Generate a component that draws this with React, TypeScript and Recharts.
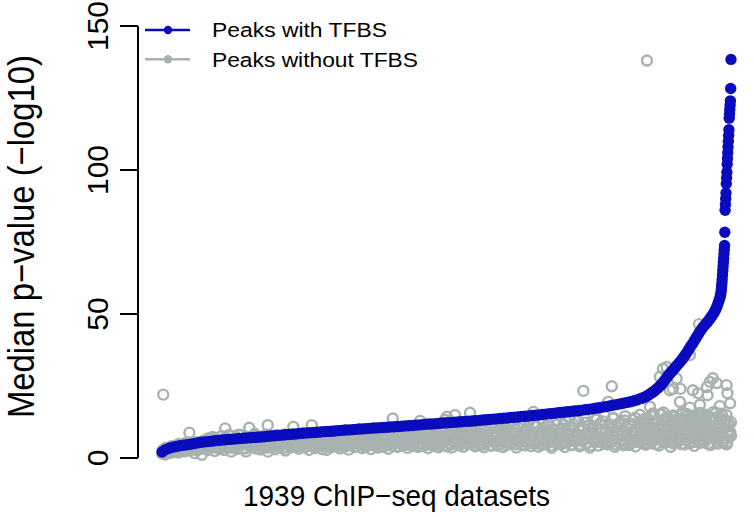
import React from 'react';
import { ScatterChart, Scatter, XAxis, YAxis, Legend } from 'recharts';

const SERIES_NAMES = ['Peaks with TFBS', 'Peaks without TFBS'];
const X_LABEL = '1939 ChIP\u2212seq datasets';
const Y_LABEL = 'Median p\u2212value (\u2212log10)';
const Y_TICKS = [0, 50, 100, 150];
const N_DATASETS = 1939;

// Blue series (sorted): values at ranks 1, 13, 25, ... (every 12th dataset)
const BLUE_FLAT_STEP = 12;
const blueFlat = [
  2.1, 2.9, 3.4, 3.75, 4.0, 4.25, 4.45, 4.6, 4.8, 5.0,
  5.25, 5.45, 5.6, 5.7, 5.85, 6.0, 6.1, 6.25, 6.35, 6.45,
  6.55, 6.65, 6.75, 6.85, 6.95, 7.05, 7.15, 7.2, 7.3, 7.4,
  7.55, 7.65, 7.75, 7.85, 7.95, 8.05, 8.15, 8.25, 8.35, 8.5,
  8.6, 8.7, 8.75, 8.85, 8.95, 9.05, 9.15, 9.25, 9.3, 9.4,
  9.5, 9.6, 9.7, 9.75, 9.85, 9.95, 10.05, 10.1, 10.2, 10.3,
  10.4, 10.45, 10.55, 10.6, 10.7, 10.8, 10.85, 10.95, 11.05, 11.15,
  11.2, 11.3, 11.4, 11.5, 11.6, 11.7, 11.8, 11.85, 11.95, 12.05,
  12.15, 12.25, 12.3, 12.4, 12.5, 12.6, 12.7, 12.75, 12.85, 12.95,
  13.05, 13.2, 13.3, 13.4, 13.5, 13.6, 13.7, 13.8, 13.9, 14.05,
  14.15, 14.25, 14.4, 14.5, 14.6, 14.75, 14.85, 14.95, 15.1, 15.25,
  15.4, 15.5, 15.65, 15.8, 15.9, 16.05, 16.15, 16.3, 16.4, 16.55,
  16.75, 16.9, 17.05, 17.25, 17.45, 17.65, 17.85, 18.1, 18.3, 18.55,
  18.8, 19.05, 19.3, 19.55, 19.9, 20.25, 20.7,
];

// Blue series, steep tail: [rank, value]
const blueSteep: [number, number][] = [
  [1640, 20.9], [1646, 21.2], [1652, 21.5], [1658, 21.9], [1664, 22.3], [1670, 22.7],
  [1676, 23.1], [1682, 23.6], [1688, 24.1], [1694, 24.7], [1700, 25.3], [1706, 26.0],
  [1712, 26.8], [1718, 27.6], [1724, 28.4], [1730, 29.2], [1736, 29.9], [1742, 30.6],
  [1748, 31.3], [1754, 32.0], [1760, 32.7], [1766, 33.4], [1772, 34.2], [1778, 35.0],
  [1784, 35.9], [1790, 36.8], [1796, 37.8], [1802, 38.8], [1808, 39.7], [1814, 40.7],
  [1820, 41.7], [1826, 42.7], [1832, 43.7], [1838, 44.6], [1844, 45.5], [1850, 46.2],
  [1856, 46.9], [1861, 47.5], [1866, 48.2], [1871, 48.9], [1876, 49.6], [1881, 50.4],
  [1885, 51.2], [1889, 52.0], [1892, 52.8], [1895, 53.7], [1898, 54.6], [1901, 55.5],
  [1903, 56.4], [1905, 57.4], [1906, 58.4], [1907, 59.5], [1908, 60.7], [1909, 62.0],
  [1910, 63.5], [1911, 65.0], [1912, 66.5], [1913, 67.9], [1914, 69.3], [1915, 70.8],
  [1916, 72.3], [1917, 73.8], [1918, 78.4], [1919, 86], [1920, 88], [1921, 90],
  [1922, 92], [1923, 95.2], [1924, 97.2], [1925, 99.2], [1926, 102], [1927, 104],
  [1928, 106], [1929, 108], [1930, 110], [1931, 112], [1932, 114], [1933, 118],
  [1934, 119.5], [1935, 121], [1936, 122.5], [1937, 124], [1938, 128.3], [1939, 138.4],
];

// Grey series: values read along the band, evenly spread over the 1939 ranks
const greyBand = [
  1.5, 2.4, 1.2, 3.1, 2.0, 3.6, 1.8, 2.7, 3.9, 2.2,
  3.4, 1.9, 4.6, 2.8, 3.7, 2.3, 5.2, 3.0, 4.1, 2.6,
  4.8, 3.3, 1.7, 5.5, 3.8, 2.9, 4.4,
  1.1, 5.1, 3.5, 6.2, 2.7, 4.3, 7.0, 3.9, 5.6, 2.4,
  6.6, 4.0, 3.2, 7.5, 5.0, 2.8, 6.1, 4.5, 3.6, 7.9,
  2.2, 5.4, 4.2, 6.9, 3.1, 8.1, 4.8, 5.9, 3.4, 6.4,
  2.2, 7.2, 4.6, 3.8, 6.0, 5.2, 8.4, 3.3, 4.9, 7.1,
  2.9, 5.7, 6.7, 4.1, 3.6, 2.2, 7.8, 5.0, 4.4, 6.3,
  3.0, 8.0, 5.5, 4.0, 6.8, 3.5, 7.4, 2.6, 5.8, 4.7,
  6.5, 3.7, 8.3, 5.1, 4.3, 7.0, 3.2, 6.0, 4.9, 8.6,
  3.9, 5.6, 7.3, 2.8, 6.2, 4.5, 8.0, 3.4, 5.3, 7.6,
  4.1, 6.7, 3.0, 8.4, 5.8, 2.8, 4.6, 7.1,
  3.7, 9.0, 5.2, 6.4, 4.0, 8.2, 3.3, 7.0, 5.7, 9.5,
  4.4, 6.1, 2.9, 8.7, 5.0, 7.4, 3.8, 6.6, 9.8, 4.7,
  5.9, 3.4, 8.0, 7.1, 4.2, 10.1, 5.5, 3.1, 6.9, 8.8,
  4.6, 7.5, 3.6, 9.3, 5.3, 6.3, 4.0, 10.4, 7.8, 3.2,
  5.8, 8.5, 4.8, 6.8, 9.9, 3.9, 7.2, 5.1, 10.6, 4.3,
  6.0, 8.1, 3.5, 7.7, 5.4, 9.6, 4.5, 6.5, 10.9, 3.8,
  8.3, 5.0, 7.0, 4.1, 9.1, 6.2, 3.4, 10.2, 5.6, 7.9,
  4.7, 8.8, 6.4, 3.7, 9.8, 5.2, 7.4, 11.0, 4.3, 6.7,
  8.5, 5.0,
  3.6, 9.4, 6.1, 7.8, 4.6, 10.7, 5.5, 8.2, 3.9, 11.5,
  6.8, 4.8, 9.0, 7.3, 5.2, 12.0, 4.0, 8.6, 6.3, 10.3,
  5.0, 7.6, 3.7, 11.2, 6.6, 9.7, 4.4, 8.0, 12.4, 5.7,
  7.1, 4.2, 10.0, 6.0, 8.8, 3.8, 11.8, 5.3, 9.3, 7.5,
  4.9, 12.6, 6.4, 8.3, 3.6, 10.6, 5.8, 7.9, 4.5, 11.4,
  6.9, 9.1, 5.1, 12.9, 4.1, 8.5, 7.2, 10.9, 5.6, 3.9,
  9.6, 6.2, 12.2, 4.7, 8.0, 11.0, 5.4, 7.6, 3.5, 10.1,
  6.5, 13.0, 4.8, 8.9, 7.0,
  5.2, 11.7, 3.8, 9.3, 6.8, 13.6, 4.5, 8.1, 10.5, 5.9,
  7.4, 12.8, 4.0, 9.8, 6.3, 14.2, 5.0, 8.6, 11.3, 3.6,
  7.9, 10.0, 5.5, 13.3, 6.7, 4.3, 12.0, 8.8, 5.8, 14.7,
  9.4, 4.7, 7.2, 11.6, 6.0, 13.9, 3.9, 10.7, 8.2, 5.3,
  12.5, 7.7, 4.4, 14.5, 9.0, 6.4, 11.2, 5.1, 13.2, 8.4,
  4.0, 10.4, 7.0, 15.0, 5.7,
  12.0, 8.9, 4.6, 14.0, 6.8, 10.8, 5.2, 15.5, 9.5, 7.3,
  13.0, 4.3, 11.5, 6.1, 15.8, 8.1, 5.5, 12.7, 9.9, 3.9,
  14.4, 7.0, 10.6, 5.8, 13.6, 8.6, 4.8, 15.2, 11.1, 6.5,
  9.2, 14.9, 5.1, 12.3, 7.6, 4.2, 13.8, 10.2, 6.2, 15.6,
  8.3, 11.8, 5.4, 14.2, 7.3, 9.7, 4.5, 12.9, 15.9, 6.9,
  10.5, 5.0, 13.5, 8.0, 14.8, 6.0, 11.4, 4.7, 12.2, 9.1, 7.7,
];

// Second grey pass, read in between the first (ranks offset by half a step)
const greyBand2 = [
  2.8, 2.1, 3.5, 2.5, 3.0, 2.2, 4.1, 3.3, 2.6, 4.4,
  2.9, 4.9, 3.6, 2.4, 4.2, 3.1, 5.0, 2.7, 3.9, 4.6,
  3.2, 5.3, 4.0, 2.8, 4.9, 3.6, 5.6,
  3.8, 6.0, 4.4, 3.2, 6.8, 5.1, 3.9, 7.3, 4.7, 5.8,
  3.4, 6.3, 4.9, 7.6, 3.7, 5.5, 6.9, 4.2, 7.9, 5.0,
  3.6, 6.6, 4.5, 7.2, 5.7, 3.9, 8.0, 4.8, 6.1, 3.3,
  7.4, 5.3, 4.1, 6.7, 3.8, 7.8, 5.6, 4.4, 6.4, 3.5,
  7.0, 5.1, 4.3, 8.1, 6.0, 3.7, 5.4, 7.5, 4.6, 6.8,
  3.9, 5.9, 7.7, 4.2, 6.3, 5.0, 8.2, 3.6, 6.6, 4.9,
  7.3, 5.5, 4.0, 6.9, 3.8, 8.0, 5.2, 4.5, 7.1, 6.1,
  3.7, 8.3, 4.8, 6.5, 5.6, 4.1, 7.7, 3.9, 6.2, 5.3,
  8.0, 4.4, 6.8, 5.0, 7.4, 3.8, 6.0, 4.7,
  8.6, 5.4, 4.2, 7.3, 6.1, 9.2, 4.6, 5.8, 7.9, 3.9,
  6.7, 9.0, 5.1, 4.4, 8.3, 6.3, 4.0, 7.6, 5.5, 9.4,
  4.8, 7.0, 6.0, 3.8, 8.8, 5.3, 4.5, 7.4, 9.7, 5.9,
  4.2, 6.5, 8.5, 5.0, 3.9, 7.8, 6.3, 9.9, 4.7, 5.6,
  8.1, 4.3, 6.9, 9.5, 5.2, 7.2, 4.0, 6.0, 8.7, 5.4,
  4.6, 9.8, 6.6, 5.0, 7.6, 4.1, 8.9, 5.8, 6.4, 9.3,
  4.4, 7.1, 5.5, 10.0, 6.2, 4.8, 8.4, 5.1, 7.5, 4.2,
  9.6, 6.0, 5.3, 8.0, 4.5, 7.0, 9.9, 5.7, 6.6, 4.0,
  8.7, 6.2,
  4.7, 7.9, 10.4, 5.6, 6.6, 4.3, 9.1, 7.2, 5.2, 8.5,
  10.8, 4.9, 6.9, 5.8, 9.4, 4.4, 7.6, 11.0, 6.1, 5.0,
  8.3, 4.6, 10.2, 7.0, 5.5, 9.0, 6.4, 4.2, 11.3, 7.8,
  5.3, 8.8, 4.8, 10.6, 6.7, 5.9, 9.6, 4.5, 7.4, 11.6,
  6.0, 5.1, 8.6, 10.0, 4.7, 7.1, 11.9, 5.7, 6.5, 9.3,
  4.4, 8.1, 10.8, 5.4, 7.7, 6.2, 4.9, 11.2, 9.0, 5.8,
  7.3, 4.6, 10.4, 6.6, 8.7, 5.1, 12.1, 6.9, 4.3, 9.5,
  7.9, 5.6, 11.5, 6.3, 8.4,
  4.8, 10.1, 6.9, 12.6, 5.4, 8.3, 9.6, 4.5, 11.8, 7.2,
  5.9, 13.1, 8.0, 4.6, 10.5, 6.5, 12.3, 5.1, 9.2, 7.6,
  4.3, 11.0, 8.5, 6.1, 13.5, 5.6, 9.9, 7.0, 12.7, 4.9,
  8.9, 6.4, 11.7, 5.2, 10.2, 13.8, 7.4, 4.7, 9.5, 12.0,
  6.2, 8.1, 5.0, 13.0, 10.8, 7.3, 4.5, 11.9, 9.0, 6.0,
  14.0, 8.6, 5.5, 12.4, 10.0,
  6.6, 13.4, 5.0, 9.3, 11.9, 7.8, 14.6, 6.0, 10.4, 4.8,
  12.8, 8.7, 15.1, 6.9, 10.9, 5.3, 13.9, 9.6, 7.5, 12.1,
  5.6, 14.8, 8.4, 11.3, 6.4, 13.2, 9.9, 4.9, 12.6, 7.9,
  15.3, 6.7, 10.7, 5.9, 13.7, 8.9, 11.6, 7.1, 14.4, 5.2,
  10.0, 12.8, 6.3, 15.0, 8.6, 4.8, 11.1, 13.4, 7.4, 9.4,
  14.1, 5.7, 12.0, 8.2, 15.4, 6.8, 10.3, 13.0, 5.4, 11.7, 9.0,
];

// Extra grey readings in the dense right-hand part (ranks 1640..1939)
const GREY_RIGHT_FROM = 1640;
const greyRight = [
  7.5, 11.2, 5.3, 13.6, 9.1, 6.4, 14.8, 8.0, 12.1, 4.9,
  10.6, 7.0, 15.2, 5.8, 12.9, 9.6, 6.6, 13.8, 8.4, 11.5,
  5.1, 14.3, 7.7, 10.1, 12.6, 6.1, 15.6, 9.0, 4.7, 13.1,
  8.8, 11.0, 6.9, 14.6, 5.6, 12.3, 9.9, 7.3, 15.0, 10.8,
  6.2, 13.5, 8.3, 11.9, 5.0, 14.1, 9.4, 7.1, 12.8, 15.7,
  6.7, 10.3, 13.9, 8.1, 5.4, 11.6, 14.9, 9.7, 7.9, 12.4,
];

// Grey outliers: [rank, value]
const greyOutliers: [number, number][] = [
  [5, 22.0], [94, 8.8], [216, 10.3], [298, 10.5], [361, 11.4], [448, 10.8],
  [511, 11.4], [787, 13.7], [880, 12.9], [965, 13.2], [971, 14.3], [999, 14.9],
  [1050, 15.7], [1266, 16.0], [1436, 23.3], [1521, 19.5], [1533, 24.9],
  [1653, 138.0], [1663, 17.8], [1697, 28.2], [1707, 31.0], [1720, 31.6],
  [1731, 23.5], [1741, 24.0], [1754, 27.6], [1765, 19.5], [1767, 24.0],
  [1799, 35.7], [1809, 23.5], [1827, 22.5], [1830, 46.5], [1833, 18.5],
  [1857, 24.6], [1859, 21.8], [1867, 26.4], [1877, 27.7], [1890, 26.0],
  [1901, 18.0], [1924, 25.3], [1927, 22.5], [1936, 19.0], [1799, 17.5],
];

const blueData = [
  ...blueFlat.map((v, i) => ({ x: 1 + i * BLUE_FLAT_STEP, y: v })),
  ...blueSteep.map(([x, y]) => ({ x, y })),
];
const greyStep = (N_DATASETS - 1) / (greyBand.length - 1);
const greyStep2 = (N_DATASETS - 1) / greyBand2.length;
const greyStep3 = (N_DATASETS - GREY_RIGHT_FROM) / (greyRight.length - 1);
const greyData = [
  ...greyBand.map((v, i) => ({ x: 1 + i * greyStep, y: v })),
  ...greyBand2.map((v, i) => ({ x: 1 + (i + 0.5) * greyStep2, y: v })),
  ...greyRight.map((v, i) => ({ x: GREY_RIGHT_FROM + i * greyStep3, y: v })),
  ...greyOutliers.map(([x, y]) => ({ x, y })),
];

const BLUE = '#0B0BBE';
const GREY = '#A8B2B0';
const FONT = '"Liberation Sans", Arial, Helvetica, sans-serif';
const SERIES_COLORS = [BLUE, GREY];

const GreyDot = (p: any) => (
  <circle cx={p.cx} cy={p.cy} r={5} fill="none" stroke={GREY} strokeWidth={2.4} />
);
const BlueDot = (p: any) => <circle cx={p.cx} cy={p.cy} r={5.7} fill={BLUE} />;

const YTick = (p: any) => {
  const bx = p.x - 10;
  return (
    <text
      x={bx}
      y={p.y}
      transform={`rotate(-90 ${bx} ${p.y})`}
      textAnchor="middle"
      fontSize={30}
      fontFamily={FONT}
      fill="#000"
    >
      {p.payload.value}
    </text>
  );
};

const YLabel = () => (
  <text
    x={34}
    y={236.5}
    transform="rotate(-90 34 236.5)"
    textAnchor="middle"
    fontSize={37}
    fontFamily={FONT}
    fill="#000"
    textLength={363}
    lengthAdjust="spacingAndGlyphs"
  >
    {Y_LABEL}
  </text>
);

const XLabel = () => (
  <text
    x={396.5}
    y={506}
    textAnchor="middle"
    fontSize={30}
    fontFamily={FONT}
    fill="#000"
    textLength={307}
    lengthAdjust="spacingAndGlyphs"
  >
    {X_LABEL}
  </text>
);

const LegendContent = () => (
  <svg width={754} height={80} style={{ display: 'block' }}>
    {SERIES_NAMES.map((name, i) => {
      const y = 30 + i * 29.3;
      const c = SERIES_COLORS[i];
      return (
        <g key={name}>
          <line x1={145} x2={190} y1={y} y2={y} stroke={c} strokeWidth={2.6} />
          <circle cx={168} cy={y} r={4.2} fill={c} />
          <text
            x={212}
            y={y + 7.4}
            fontSize={20}
            fontFamily={FONT}
            fill="#000"
            textLength={i === 0 ? 175 : 206}
            lengthAdjust="spacingAndGlyphs"
          >
            {name}
          </text>
        </g>
      );
    })}
  </svg>
);

export default function App() {
  return (
    <div style={{ position: 'absolute', left: 0, top: 0, background: '#fff' }}>
      <ScatterChart
        width={754}
        height={517}
        margin={{ top: 26, right: 1, bottom: 0, left: 0 }}
      >
        <XAxis
          type="number"
          dataKey="x"
          domain={[-81, 2014]}
          allowDataOverflow
          tick={false}
          tickLine={false}
          axisLine={false}
          height={59}
          label={XLabel}
        />
        <YAxis
          type="number"
          dataKey="y"
          domain={[0, 150]}
          ticks={Y_TICKS}
          interval={0}
          width={138}
          tickSize={18}
          tickLine={{ stroke: '#000', strokeWidth: 2 }}
          axisLine={{ stroke: '#000', strokeWidth: 2 }}
          tick={YTick}
          label={YLabel}
        />
        <Legend
          layout="vertical"
          align="center"
          verticalAlign="middle"
          content={LegendContent}
          wrapperStyle={{ left: 0, top: 0, width: 754, height: 80, margin: 0, padding: 0 }}
        />
        <Scatter
          name={SERIES_NAMES[1]}
          data={greyData}
          shape={GreyDot}
          isAnimationActive={false}
        />
        <Scatter
          name={SERIES_NAMES[0]}
          data={blueData}
          shape={BlueDot}
          isAnimationActive={false}
        />
      </ScatterChart>
    </div>
  );
}
